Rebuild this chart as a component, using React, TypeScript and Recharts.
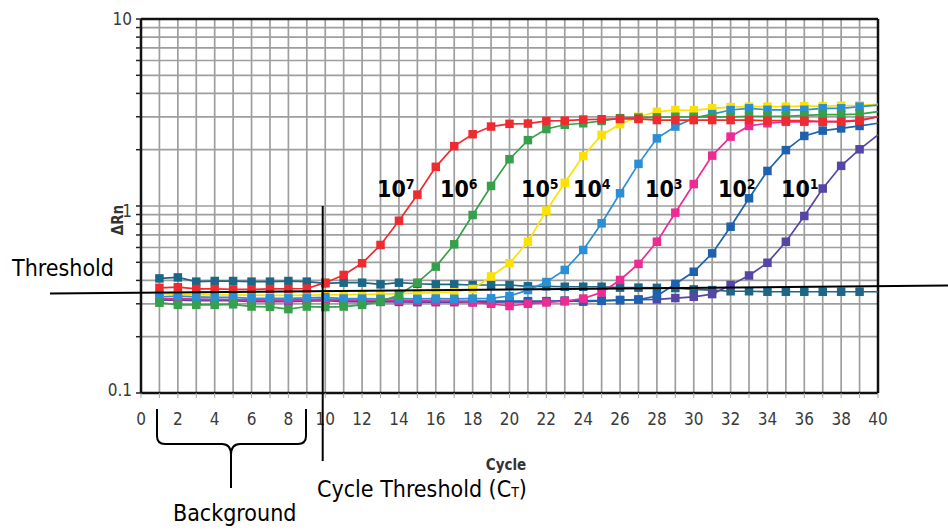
import React from 'react';
import { LineChart, Line, XAxis, YAxis, CartesianGrid, ReferenceLine } from 'recharts';

const cycles = Array.from({ length: 40 }, (_, i) => i + 1);

const s1e7 = [0.365, 0.368, 0.36, 0.36, 0.358, 0.358, 0.36, 0.36, 0.362, 0.389, 0.428, 0.494, 0.619, 0.834, 1.15, 1.62, 2.09, 2.42, 2.66, 2.75, 2.76, 2.85, 2.86, 2.9, 2.91, 2.92, 2.92, 2.88, 2.88, 2.88, 2.88, 2.88, 2.88, 2.86, 2.86, 2.86, 2.82, 2.82, 2.86, 3.0];
const s1e6 = [0.304, 0.296, 0.296, 0.296, 0.298, 0.29, 0.289, 0.281, 0.29, 0.288, 0.29, 0.296, 0.308, 0.334, 0.389, 0.474, 0.624, 0.895, 1.28, 1.78, 2.25, 2.58, 2.72, 2.77, 2.85, 2.95, 2.97, 2.98, 3.0, 3.0, 3.0, 3.0, 3.02, 3.02, 3.02, 3.05, 3.08, 3.08, 3.1, 3.2];
const s1e5 = [0.34, 0.338, 0.336, 0.335, 0.335, 0.334, 0.333, 0.333, 0.334, 0.335, 0.336, 0.337, 0.338, 0.34, 0.342, 0.344, 0.346, 0.36, 0.42, 0.494, 0.644, 0.944, 1.33, 1.85, 2.4, 2.74, 3.0, 3.19, 3.26, 3.25, 3.33, 3.38, 3.4, 3.4, 3.4, 3.42, 3.42, 3.44, 3.45, 3.5];
const s1e4 = [0.327, 0.33, 0.327, 0.325, 0.325, 0.321, 0.321, 0.321, 0.323, 0.325, 0.32, 0.32, 0.319, 0.32, 0.319, 0.32, 0.319, 0.32, 0.321, 0.33, 0.355, 0.392, 0.455, 0.582, 0.808, 1.17, 1.68, 2.3, 2.66, 2.95, 3.1, 3.26, 3.33, 3.27, 3.27, 3.27, 3.33, 3.33, 3.4, 3.46];
const s1e3 = [0.318, 0.32, 0.318, 0.316, 0.316, 0.314, 0.313, 0.313, 0.315, 0.316, 0.315, 0.314, 0.314, 0.312, 0.312, 0.31, 0.31, 0.305, 0.3, 0.292, 0.3, 0.305, 0.31, 0.32, 0.345, 0.402, 0.49, 0.644, 0.921, 1.31, 1.86, 2.35, 2.68, 2.77, 2.82, 2.82, 2.84, 2.84, 2.88, 3.0];
const s1e2 = [0.318, 0.318, 0.316, 0.316, 0.315, 0.315, 0.314, 0.314, 0.316, 0.318, 0.312, 0.31, 0.31, 0.31, 0.31, 0.309, 0.309, 0.31, 0.31, 0.31, 0.31, 0.31, 0.31, 0.312, 0.312, 0.314, 0.316, 0.33, 0.383, 0.445, 0.558, 0.775, 1.1, 1.54, 1.99, 2.37, 2.53, 2.6, 2.68, 2.77];
const s1e1 = [0.314, 0.314, 0.312, 0.312, 0.312, 0.308, 0.308, 0.308, 0.31, 0.312, 0.308, 0.307, 0.307, 0.307, 0.306, 0.306, 0.306, 0.306, 0.306, 0.307, 0.306, 0.308, 0.312, 0.308, 0.311, 0.314, 0.316, 0.317, 0.322, 0.327, 0.338, 0.378, 0.425, 0.497, 0.644, 0.884, 1.24, 1.64, 2.01, 2.4];
const ntc = [0.41, 0.415, 0.394, 0.397, 0.397, 0.394, 0.394, 0.397, 0.394, 0.386, 0.389, 0.389, 0.381, 0.389, 0.384, 0.381, 0.381, 0.378, 0.378, 0.378, 0.372, 0.372, 0.37, 0.37, 0.37, 0.366, 0.366, 0.365, 0.364, 0.358, 0.355, 0.35, 0.35, 0.348, 0.348, 0.348, 0.348, 0.348, 0.348, 0.348];

const yTicks = [0.1, 0.2, 0.3, 0.4, 0.5, 0.6, 0.7, 0.8, 0.9, 1, 2, 3, 4, 5, 6, 7, 8, 9, 10];
const yLabels = [0.1, 1, 10];
const xTicks = Array.from({ length: 41 }, (_, i) => i);

const seriesLabels = [
  { exp: '7', x: 377 },
  { exp: '6', x: 440 },
  { exp: '5', x: 521 },
  { exp: '4', x: 573 },
  { exp: '3', x: 645 },
  { exp: '2', x: 718 },
  { exp: '1', x: 781 },
];

const rows = cycles.map((c, i) => ({
  cycle: c,
  s7: s1e7[i],
  s6: s1e6[i],
  s5: s1e5[i],
  s4: s1e4[i],
  s3: s1e3[i],
  s2: s1e2[i],
  s1: s1e1[i],
  ntc: ntc[i],
}));

const series = [
  { key: 'ntc', color: '#1c6688' },
  { key: 's1', color: '#5545a6' },
  { key: 's2', color: '#1d62ae' },
  { key: 's3', color: '#ee2a93' },
  { key: 's5', color: '#fbe200' },
  { key: 's4', color: '#2a8fd4' },
  { key: 's6', color: '#37a04a' },
  { key: 's7', color: '#ee2b2f' },
];

const COND = "'DejaVu Sans Condensed', 'DejaVu Sans', sans-serif";
const NARROW = "'Liberation Sans Narrow', 'DejaVu Sans Condensed', sans-serif";

const makeDot = (color: string) => (props: any) => {
  const { cx, cy, payload, index } = props;
  if (cx == null || cy == null || payload.cycle === 40) return <g key={`d${index}`} />;
  return <rect key={`d${index}`} x={cx - 4.25} y={cy - 4.25} width={8.5} height={8.5} fill={color} />;
};

const XTick = (props: any) => {
  const { x, y, payload } = props;
  if (payload.value % 2 !== 0) return <g />;
  return (
    <text x={x} y={y + 25} textAnchor="middle" fontSize={17} fontFamily={NARROW} fill="#3a3a3a">
      {payload.value}
    </text>
  );
};

const yLabelShift: Record<string, number> = { '10': 0, '1': 5, '0.1': -3 };

const YTick = (props: any) => {
  const { x, y, payload } = props;
  if (!yLabels.includes(payload.value)) return <g />;
  const s = String(payload.value);
  return (
    <text x={x} y={y + (yLabelShift[s] || 0)} dy="0.36em" textAnchor="end" fontSize={17} fontFamily={COND} fill="#3a3a3a">
      {s}
    </text>
  );
};

export default function App() {
  return (
    <div style={{ position: 'absolute', left: 0, top: 0, width: 948, height: 531, background: '#fff' }}>
      <LineChart width={948} height={531} data={rows} margin={{ top: 19, right: 70, bottom: 98, left: 0 }}>
        <CartesianGrid stroke="#9e9e9e" strokeWidth={1.7} />
        <XAxis
          dataKey="cycle"
          type="number"
          domain={[0, 40]}
          ticks={xTicks}
          interval={0}
          height={40}
          tickSize={5}
          tickMargin={2}
          axisLine={{ stroke: '#111', strokeWidth: 2.5 }}
          tickLine={{ stroke: '#aaa' }}
          tick={<XTick />}
        />
        <YAxis
          type="number"
          scale="log"
          domain={[0.1, 10]}
          allowDataOverflow
          ticks={yTicks}
          interval={0}
          width={141}
          tickSize={5}
          tickMargin={4}
          axisLine={{ stroke: '#111', strokeWidth: 2.5 }}
          tickLine={{ stroke: '#222', strokeWidth: 1.5 }}
          tick={<YTick />}
        />
        <ReferenceLine y={10} stroke="#111" strokeWidth={2.5} />
        <ReferenceLine x={40} stroke="#111" strokeWidth={2.5} />
        {series.map((s) => (
          <Line
            key={s.key}
            dataKey={s.key}
            type="linear"
            stroke={s.color}
            strokeWidth={1.7}
            dot={makeDot(s.color)}
            activeDot={false}
            isAnimationActive={false}
          />
        ))}
      </LineChart>
      <svg width={948} height={531} style={{ position: 'absolute', left: 0, top: 0, pointerEvents: 'none' }}>
        <text transform="translate(123,220) rotate(-90)" textAnchor="middle" fontSize={15} fontWeight="bold" fontFamily={COND} fill="#333">
          ΔRn
        </text>
        <text x={506} y={470} textAnchor="middle" fontSize={15} fontWeight="bold" fontFamily={COND} fill="#333">
          Cycle
        </text>
        {seriesLabels.map((l) => (
          <text key={l.exp} x={l.x} y={197} fontSize={23} fontWeight="bold" fontFamily={COND} fill="#000">
            10
            <tspan dy={-8} fontSize={14}>{l.exp}</tspan>
          </text>
        ))}
        <line x1={50} y1={293.5} x2={948} y2={285.5} stroke="#000" strokeWidth={2} />
        <line x1={322.7} y1={206} x2={322.7} y2={461} stroke="#000" strokeWidth={2} />
        <text x={12} y={276} fontSize={23} fontFamily={COND} fill="#000">Threshold</text>
        <text x={317} y={497} fontSize={23} fontFamily={COND} fill="#000">
          Cycle Threshold (C<tspan fontSize={14}>T</tspan>)
        </text>
        <text x={173} y={521} fontSize={23} fontFamily={COND} fill="#000">Background</text>
        <path
          d="M157,409 L157,436 Q157,444 165,444 L222,444 Q231,444 231,455 L231,488 M231,455 Q231,444 240,444 L298,444 Q306,444 306,436 L306,409"
          fill="none"
          stroke="#000"
          strokeWidth={2}
        />
      </svg>
    </div>
  );
}
